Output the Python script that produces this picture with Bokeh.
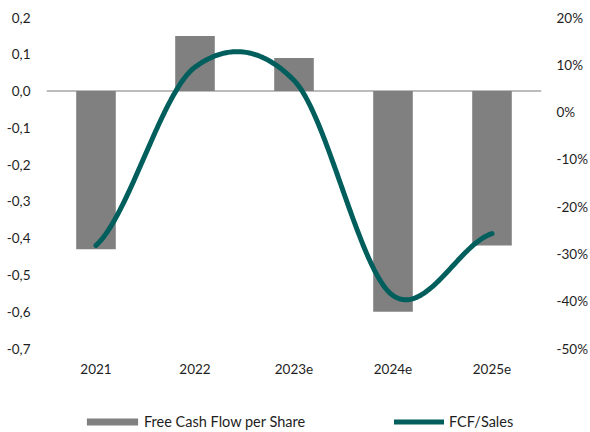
import numpy as np
from bokeh.plotting import figure
from bokeh.models import (FactorRange, Range1d, LinearAxis, FixedTicker,
                          CustomJSTickFormatter, Span, Legend, LegendItem,
                          ColumnDataSource)
from bokeh.embed import file_html
from bokeh.resources import INLINE

# ---- data ----
years = ["2021", "2022", "2023e", "2024e", "2025e"]
fcf_per_share = [-0.43, 0.15, 0.09, -0.60, -0.42]
fcf_sales_pct = [-28.2, 9.5, 6.7, -38.8, -25.7]
left_ticks = [0.2, 0.1, 0.0, -0.1, -0.2, -0.3, -0.4, -0.5, -0.6, -0.7]
right_ticks = [20, 10, 0, -10, -20, -30, -40, -50]

FONT = "Lato"
FS = "13.5px"
LEG_FS = "14.5px"
TXT = "#1e1e1e"
BAR_COLOR = "#808080"
LINE_COLOR = "#005E5C"

# ---- layout geometry (pixels) ----
W, H = 590, 432
TOP, LEFT, RIGHT = 17, 46, 48
AXIS_SPAN = 331          # pixels between top tick and bottom tick of the value axes
FRAME_H = H - TOP        # frame reaches the bottom so the legend can sit inside it


def smooth_curve(xs, ys, k_in=0.44, k_end=0.5, n=60):
    """Cardinal (Hermite) spline through the data points, as a smoothed line."""
    xs = np.asarray(xs, float)
    ys = np.asarray(ys, float)
    m = np.zeros_like(ys)
    for i in range(len(ys)):
        if i == 0:
            m[i] = k_end * (ys[1] - ys[0])
        elif i == len(ys) - 1:
            m[i] = k_end * (ys[-1] - ys[-2])
        else:
            m[i] = k_in * (ys[i + 1] - ys[i - 1])
    out_x, out_y = [], []
    for i in range(len(ys) - 1):
        t = np.linspace(0, 1, n, endpoint=(i == len(ys) - 2))
        h00 = 2 * t**3 - 3 * t**2 + 1
        h10 = t**3 - 2 * t**2 + t
        h01 = -2 * t**3 + 3 * t**2
        h11 = t**3 - t**2
        out_y.extend(h00 * ys[i] + h10 * m[i] + h01 * ys[i + 1] + h11 * m[i + 1])
        out_x.extend(xs[i] + t * (xs[i + 1] - xs[i]))
    return out_x, out_y


def extended_range(top, bottom):
    per_px = (top - bottom) / AXIS_SPAN
    return Range1d(top - FRAME_H * per_px, top)


p = figure(width=W, height=H,
           x_range=FactorRange(*years, range_padding=0),
           y_range=extended_range(left_ticks[0], left_ticks[-1]),
           output_backend="svg", toolbar_location=None,
           min_border_left=LEFT, min_border_right=RIGHT,
           min_border_top=TOP, min_border_bottom=0)
p.outline_line_color = None
p.xgrid.visible = False
p.ygrid.visible = False
p.background_fill_color = "white"
p.border_fill_color = "white"


def style_axis(ax, standoff):
    ax.axis_line_color = None
    ax.major_tick_line_color = None
    ax.minor_tick_line_color = None
    ax.major_tick_out = 0
    ax.major_tick_in = 0
    ax.minor_tick_out = 0
    ax.minor_tick_in = 0
    ax.major_label_standoff = standoff
    ax.major_label_text_font = FONT
    ax.major_label_text_font_size = FS
    ax.major_label_text_color = TXT


# left axis
ly = p.yaxis[0]
ly.ticker = FixedTicker(ticks=left_ticks)
ly.formatter = CustomJSTickFormatter(code="""
    if (Math.abs(tick) < 1e-9) { return '0,0'; }
    return tick.toFixed(1).replace('.', ',');
""")
style_axis(ly, 16)

# x axis, pinned at the bottom of the value scale
xa = p.xaxis[0]
style_axis(xa, 15)
xa.fixed_location = left_ticks[-1]

# right axis
p.extra_y_ranges = {"pct": extended_range(right_ticks[0], right_ticks[-1])}
ra = LinearAxis(y_range_name="pct", ticker=FixedTicker(ticks=right_ticks),
                formatter=CustomJSTickFormatter(code="return tick.toFixed(0) + '%';"))
style_axis(ra, 15)
p.add_layout(ra, "right")

# zero line
p.add_layout(Span(location=0, dimension="width", line_color="#A6A6A6",
                  line_width=1.5, level="underlay"))

# bars
bar_src = ColumnDataSource(dict(x=years, top=fcf_per_share))
bars = p.vbar(x="x", top="top", bottom=0, width=0.4, source=bar_src,
              fill_color=BAR_COLOR, line_color=None)

# smoothed line on right axis (synthetic categorical coordinates i + 0.5)
cx = [i + 0.5 for i in range(len(years))]
sx, sy = smooth_curve(cx, fcf_sales_pct)
line = p.line(sx, sy, y_range_name="pct", line_color=LINE_COLOR, line_width=5,
              line_cap="round", line_join="round")


def make_legend(item, gw, gh, standoff, loc):
    return Legend(items=[item], location=loc, orientation="horizontal",
                  glyph_width=gw, glyph_height=gh, label_height=gh,
                  label_standoff=standoff, padding=0, margin=0, spacing=0,
                  border_line_color=None, background_fill_alpha=0,
                  label_text_font=FONT, label_text_font_size=LEG_FS,
                  label_text_color=TXT)


p.add_layout(make_legend(LegendItem(label="Free Cash Flow per Share", renderers=[bars]),
                         64, 9, 0, (34, 2)))
p.add_layout(make_legend(LegendItem(label="FCF/Sales", renderers=[line]),
                         50, 9, 5, (348, 2)))

open("out.html", "w").write(file_html(p, INLINE))
